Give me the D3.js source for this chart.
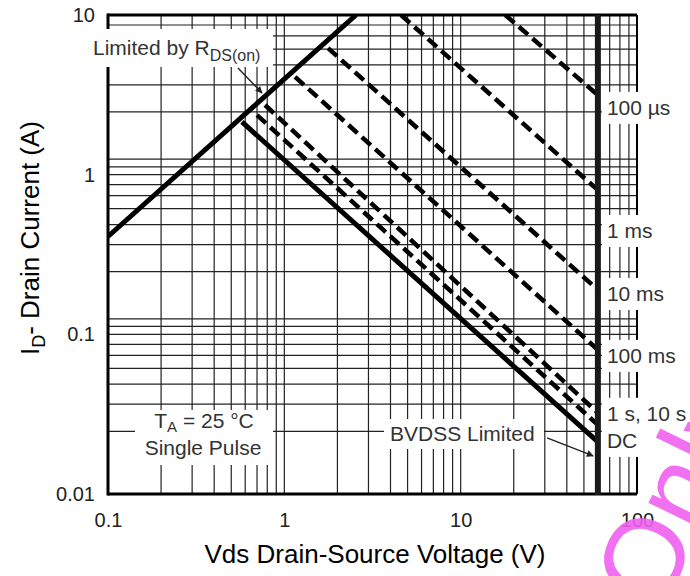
<!DOCTYPE html>
<html><head><meta charset="utf-8">
<script src="https://cdn.jsdelivr.net/npm/d3@7"></script>
<style>
body{margin:0;background:#fff}
text{font-family:"Liberation Sans",Arial,Helvetica,sans-serif}
</style>
</head><body>
<svg id="c" width="690" height="576"></svg>
<script>
// ---------- data ----------
const xTicks = [0.1, 1, 10, 100];
const yTicks = [0.01, 0.1, 1, 10];
const xGridMantissa = [1, 2, 3, 4, 5, 6, 7, 8, 9];
const yGridMantissa = [1, 1.12, 1.25, 2.47, 3.65, 4.87, 6.12, 7.39, 8.66];
const yGridMantissaLow = [2.47, 3.65, 4.87, 6.12, 7.39, 8.66];
const bvdss = 60;
const rdsLimit = [[0.1, 0.41], [2.55, 10]];
const line100us = [[17.9, 10], [60, 3.15]];
const line1ms = [[4.59, 10], [60, 0.80]];
const line10ms = [[1.77, 6.2], [60, 0.19]];
const line100ms = [[1.15, 4.1], [60, 0.080]];
const line10s = [[0.777, 2.73], [60, 0.0322]];
const line1s = [[0.70, 2.36], [60, 0.0271]];
const lineDC = [[0.575, 2.14], [60, 0.0212]];
const rightLabels = ["100 µs", "1 ms", "10 ms", "100 ms", "1 s, 10 s", "DC"];
const rightLabelAt = [2.62, 0.444, 0.179, 0.0733, 0.0318, 0.0215];

// ---------- setup ----------
const svg = d3.select("#c");
const x = d3.scaleLog().domain([0.1, 100]).range([108, 637]);
const y = d3.scaleLog().domain([0.01, 10]).range([494, 15]);
const X0 = x(0.1), X1 = x(100), Y0 = y(0.01), Y1 = y(10);

svg.append("defs").html(`
 <clipPath id="plot"><rect x="${X0}" y="${Y1}" width="${X1-X0}" height="${Y0-Y1}"/></clipPath>
 <marker id="ah" viewBox="0 0 10 10" refX="9" refY="5" markerWidth="9" markerHeight="7" orient="auto" markerUnits="userSpaceOnUse">
   <path d="M0,0 L10,5 L0,10 z" fill="#222"/></marker>`);

// ---------- grid ----------
const gxVals = [];
[0.1, 1, 10].forEach(d => xGridMantissa.forEach(m => { const v = d * m; if (v > 0.1) gxVals.push(v); }));
const gyVals = [];
[1, 0.1].forEach(d => yGridMantissa.forEach(m => gyVals.push(d * m)));
yGridMantissaLow.forEach(m => gyVals.push(0.01 * m));

const grid = svg.append("g").attr("stroke", "#222").attr("stroke-width", 1.2);
grid.selectAll("line.v").data(gxVals).join("line")
  .attr("x1", d => x(d)).attr("x2", d => x(d)).attr("y1", Y1).attr("y2", Y0);
grid.selectAll("line.h").data(gyVals.filter(v => v < 10)).join("line")
  .attr("x1", X0).attr("x2", X1).attr("y1", d => y(d)).attr("y2", d => y(d));

// ---------- borders ----------
const bd = svg.append("g").attr("stroke", "#000");
bd.append("line").attr("x1", X0).attr("x2", X0).attr("y1", Y1 - 1.5).attr("y2", Y0 + 1.5).attr("stroke-width", 3);
bd.append("line").attr("x1", X0).attr("x2", X1).attr("y1", Y0).attr("y2", Y0).attr("stroke-width", 3);
bd.append("line").attr("x1", X0).attr("x2", X1).attr("y1", Y1).attr("y2", Y1).attr("stroke-width", 3);
bd.append("line").attr("x1", X1).attr("x2", X1).attr("y1", Y1).attr("y2", Y0).attr("stroke-width", 2);

// ---------- label backgrounds ----------
const bg = svg.append("g").attr("fill", "#fff");
bg.append("rect").attr("x", 88).attr("y", 29).attr("width", 185).attr("height", 38);
bg.append("rect").attr("x", 135).attr("y", 410).attr("width", 138).attr("height", 55);
bg.append("rect").attr("x", 384).attr("y", 419).attr("width", 160).attr("height", 30);
rightLabelAt.forEach((v, i) => {
  bg.append("rect").attr("x", x(bvdss) + 4).attr("y", y(v) - 16).attr("width", 90).attr("height", 32);
});

// ---------- curves ----------
const lineGen = d3.line().x(d => x(d[0])).y(d => y(d[1]));
const curves = svg.append("g").attr("clip-path", "url(#plot)").attr("fill", "none").attr("stroke", "#000");
curves.append("path").attr("d", lineGen(rdsLimit)).attr("stroke-width", 5);
[line100us, line1ms, line10ms, line100ms, line10s, line1s].forEach(l => {
  curves.append("path").attr("d", lineGen(l)).attr("stroke-width", 4.5).attr("stroke-dasharray", "12,6");
});
curves.append("path").attr("d", lineGen(lineDC)).attr("stroke-width", 5);

// BVDSS limit line
svg.append("line").attr("x1", x(bvdss)).attr("x2", x(bvdss)).attr("y1", Y1).attr("y2", Y0 + 1)
  .attr("stroke", "#1a1a1a").attr("stroke-width", 6);

// ---------- axes ----------
const fmt = d3.format("~g");
const ax = svg.append("g").attr("transform", `translate(0,${Y0})`)
  .call(d3.axisBottom(x).tickValues(xTicks).tickSize(0).tickPadding(19).tickFormat(fmt));
const ay = svg.append("g").attr("transform", `translate(${X0},0)`)
  .call(d3.axisLeft(y).tickValues(yTicks).tickSize(0).tickPadding(13).tickFormat(fmt));
[ax, ay].forEach(a => {
  a.select(".domain").remove();
  a.selectAll("text").attr("font-size", 20).attr("fill", "#222")
    .attr("font-family", "'Liberation Sans', Arial, sans-serif");
});

// axis titles
svg.append("text").attr("x", 375).attr("y", 563).attr("text-anchor", "middle")
  .attr("font-size", 26).attr("fill", "#000").text("Vds Drain-Source Voltage (V)");
const yt = svg.append("text").attr("transform", "translate(39,238) rotate(-90)")
  .attr("text-anchor", "middle").attr("font-size", 26).attr("fill", "#000");
yt.append("tspan").text("I");
yt.append("tspan").attr("font-size", 18).attr("dy", 6).text("D");
yt.append("tspan").attr("dy", -6).text("- Drain Current (A)");

// ---------- annotations ----------
const ann = svg.append("g").attr("font-size", 21).attr("fill", "#333");
const t1 = ann.append("text").attr("x", 93).attr("y", 55);
t1.append("tspan").text("Limited by R");
t1.append("tspan").attr("font-size", 16).attr("dy", 6).text("DS(on)");
svg.append("line").attr("x1", x(0.546)).attr("y1", y(4.66)).attr("x2", x(0.747)).attr("y2", y(3.25))
  .attr("stroke", "#222").attr("stroke-width", 1.4).attr("marker-end", "url(#ah)");

const t2 = ann.append("text").attr("x", 204).attr("y", 428).attr("text-anchor", "middle");
t2.append("tspan").text("T");
t2.append("tspan").attr("font-size", 15).attr("dy", 4).text("A");
t2.append("tspan").attr("dy", -4).text(" = 25 °C");
ann.append("text").attr("x", 203).attr("y", 455).attr("text-anchor", "middle").text("Single Pulse");

ann.append("text").attr("x", 390).attr("y", 441).text("BVDSS Limited");
svg.append("line").attr("x1", x(30.9)).attr("y1", y(0.02244)).attr("x2", x(56.4)).attr("y2", y(0.01733))
  .attr("stroke", "#222").attr("stroke-width", 1.4).attr("marker-end", "url(#ah)");

rightLabels.forEach((t, i) => {
  ann.append("text").attr("x", x(bvdss) + 9).attr("y", y(rightLabelAt[i])).attr("dy", "0.35em").text(t);
});

// watermark
svg.append("text").attr("transform", "translate(660,614) rotate(-64)")
  .attr("font-size", 112).attr("fill", "#f060f0").attr("opacity", 0.9).text("Only");
</script>
</body></html>
